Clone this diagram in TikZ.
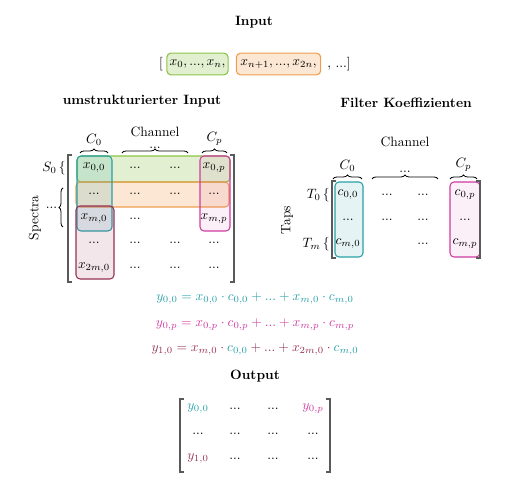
\documentclass[tikz,border=0pt]{standalone}
\usetikzlibrary{decorations.pathreplacing}
\definecolor{cteal}{RGB}{40,160,168}
\definecolor{cgreen}{RGB}{140,195,70}
\definecolor{corange}{RGB}{238,158,78}
\definecolor{cmag}{RGB}{208,58,160}
\definecolor{cmar}{RGB}{150,48,85}
\definecolor{cbrk}{RGB}{90,90,90}
\tikzset{
  cell/.style={inner sep=0pt, anchor=center},
  ttl/.style={font=\bfseries},
  hbox/.style={draw, line width=0.8pt, rounded corners=3pt},
  brk/.style={draw=cbrk, line width=0.9pt},
  brc/.style={decorate, decoration={brace, amplitude=3pt}, line width=0.6pt},
}
\begin{document}
\begin{tikzpicture}[x=0.74pt, y=-0.74pt]
\useasboundingbox (0,0) rectangle (509,495);

% ---------- Input ----------
\node[ttl] (tin) at (254,22) {Input};
\node (lbr) at (161,64) {[};
\node[hbox, draw=cgreen, fill=cgreen!25, minimum height=16pt, inner xsep=2pt] (gin) at (197.5,64) {$x_0, ..., x_n,$};
\node[hbox, draw=corange, fill=corange!25, minimum height=16pt, inner xsep=3pt] (oin) at (278.5,64) {$x_{n+1}, ..., x_{2n},$};
\node (rbr) at (339,64) {$,\,...]$};

% ---------- umstrukturierter Input ----------
\node[ttl] (tum) at (142,101) {umstrukturierter Input};

% boxes
\draw[hbox, draw=cgreen, fill=cgreen!25] (77,156) rectangle (230,182);
\draw[hbox, draw=corange, fill=corange, fill opacity=0.25] (76,182) rectangle (229,207);
\draw[hbox, draw=cteal, fill=cteal, fill opacity=0.15] (77,156) rectangle (112,231);
\draw[hbox, draw=cmag, fill=cmag, fill opacity=0.08] (200,156) rectangle (230,231);
\draw[hbox, draw=cmar, fill=cmar, fill opacity=0.12] (76,206) rectangle (114,279);

% brackets
\draw[brk] (72,155) -- (68,155) -- (68,282) -- (72,282);
\draw[brk] (230,155) -- (234,155) -- (234,282) -- (230,282);

% cells
\node[cell] (a11) at (94,168) {$x_{0,0}$};
\node[cell] (a12) at (135,168) {$...$};
\node[cell] (a13) at (175,168) {$...$};
\node[cell] (a14) at (214,168) {$x_{0,p}$};
\node[cell] (a21) at (94,194) {$...$};
\node[cell] (a22) at (135,194) {$...$};
\node[cell] (a23) at (175,194) {$...$};
\node[cell] (a24) at (214,194) {$...$};
\node[cell] (a31) at (94,219) {$x_{m,0}$};
\node[cell] (a32) at (135,219) {$...$};
\node[cell] (a34) at (214,219) {$x_{m,p}$};
\node[cell] (a41) at (94,243) {$...$};
\node[cell] (a42) at (135,243) {$...$};
\node[cell] (a43) at (175,243) {$...$};
\node[cell] (a44) at (214,243) {$...$};
\node[cell] (a51) at (94,268) {$x_{2m,0}$};
\node[cell] (a52) at (135,268) {$...$};
\node[cell] (a53) at (175,268) {$...$};
\node[cell] (a54) at (214,268) {$...$};

% top braces
\draw[brc] (80,153) -- (108,153) node[midway, above=2pt] (lc0) {$C_0$};
\draw[brc] (122,153) -- (188,153);
\node[inner sep=0pt, align=center, anchor=south] (lch) at (155,148.5) {Channel\\[-3.5pt]$...$};
\draw[brc] (202,153) -- (227,153) node[midway, above=2pt] (lcp) {$C_p$};

% left side
\node[anchor=east, inner sep=0pt] (ls0) at (66,168) {$S_0\,\{$};
\draw[brc] (63,227) -- (63,188) node[midway, left=4pt, inner sep=0pt] (lsd) {$...$};
\node[rotate=90] (lspec) at (35,218) {Spectra};

% ---------- Filter Koeffizienten ----------
\node[ttl] (tfk) at (406,103) {Filter Koeffizienten};

\draw[hbox, draw=cteal, fill=cteal, fill opacity=0.12] (335,182) rectangle (363,257);
\draw[hbox, draw=cmag, fill=cmag, fill opacity=0.08] (450,182) rectangle (480,257);

\draw[brk] (336,181) -- (332,181) -- (332,258) -- (336,258);
\draw[brk] (476,181) -- (480,181) -- (480,258) -- (476,258);

\node[cell] (b11) at (348,195) {$c_{0,0}$};
\node[cell] (b12) at (387,195) {$...$};
\node[cell] (b13) at (423,195) {$...$};
\node[cell] (b14) at (465,195) {$c_{0,p}$};
\node[cell] (b21) at (348,220) {$...$};
\node[cell] (b22) at (387,220) {$...$};
\node[cell] (b23) at (423,220) {$...$};
\node[cell] (b24) at (465,220) {$...$};
\node[cell] (b31) at (348,244) {$c_{m,0}$};
\node[cell] (b33) at (423,244) {$...$};
\node[cell] (b34) at (465,244) {$c_{m,p}$};

\draw[brc] (333,179) -- (362,179) node[midway, above=2pt] (rc0) {$C_0$};
\draw[brc] (372,179) -- (438,179);
\node[cell] (rdots) at (405,172) {$...$};
\draw[brc] (450,179) -- (477,179) node[midway, above=2pt] (rcp) {$C_p$};
\node (rch) at (405,142) {Channel};

\node[anchor=east, inner sep=0pt] (rt0) at (330,195) {$T_0\,\{$};
\node[anchor=east, inner sep=0pt] (rtm) at (330,244) {$T_m\,\{$};
\node[rotate=90] (rtaps) at (287,220) {Taps};

% ---------- equations ----------
\node (eq1) at (255,298) {\color{cteal}$y_{0,0} = x_{0,0}\cdot c_{0,0} + ... + x_{m,0}\cdot c_{m,0}$};
\node (eq2) at (255,324) {\color{cmag}$y_{0,p} = x_{0,p}\cdot c_{0,p} + ... + x_{m,p}\cdot c_{m,p}$};
\node (eq3) at (255,349) {\color{cmar}$y_{1,0} = x_{m,0}\cdot {\color{cteal}c_{0,0}} + ... + x_{2m,0}\cdot {\color{cteal}c_{m,0}}$};

% ---------- Output ----------
\node[ttl] (tout) at (255,376) {Output};
\draw[brk] (184,399) -- (180,399) -- (180,472) -- (184,472);
\draw[brk] (326,399) -- (330,399) -- (330,472) -- (326,472);

\node[cell] (o11) at (198,409) {\color{cteal}$y_{0,0}$};
\node[cell] (o12) at (235,409) {$...$};
\node[cell] (o13) at (273,409) {$...$};
\node[cell] (o14) at (313,409) {\color{cmag}$y_{0,p}$};
\node[cell] (o21) at (198,434) {$...$};
\node[cell] (o22) at (235,434) {$...$};
\node[cell] (o23) at (273,434) {$...$};
\node[cell] (o24) at (313,434) {$...$};
\node[cell] (o31) at (198,459) {\color{cmar}$y_{1,0}$};
\node[cell] (o32) at (235,459) {$...$};
\node[cell] (o33) at (273,459) {$...$};
\node[cell] (o34) at (313,459) {$...$};
\end{tikzpicture}
\end{document}
